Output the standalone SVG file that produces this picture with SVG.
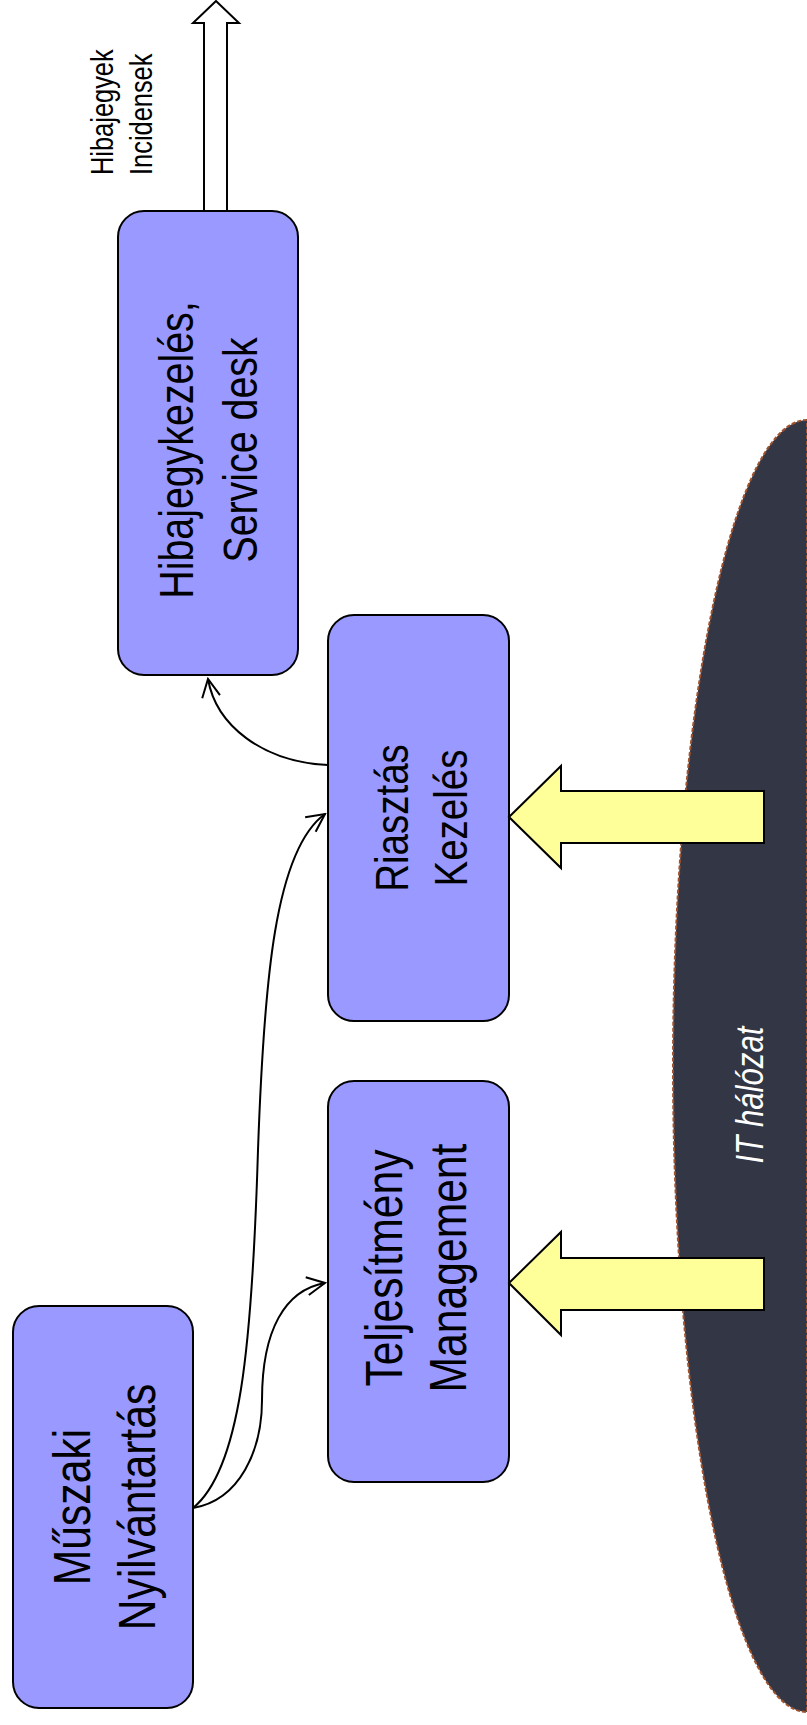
<svg xmlns="http://www.w3.org/2000/svg" width="807" height="1725" viewBox="0 0 807 1725">
<style>
.box{fill:#9999FF;stroke:#000;stroke-width:2}
.t{font-family:"Liberation Sans",Arial,sans-serif;fill:#000;text-anchor:middle}
.big{font-size:52px}
.mid{font-size:47px}
.small{font-size:31px;text-anchor:start}
.yel{fill:#FFFF99;stroke:#000;stroke-width:2;stroke-linejoin:miter}
.con{fill:none;stroke:#000;stroke-width:2}
</style>
<defs>
<marker id="open" viewBox="-22 -12 24 24" refX="0" refY="0" markerWidth="24" markerHeight="24" markerUnits="userSpaceOnUse" orient="auto">
<path d="M-18,-9 L0,0 L-18,9" fill="none" stroke="#000" stroke-width="2"/>
</marker>
</defs>
<rect width="807" height="1725" fill="#fff"/>
<g id="it-halozat">
<path d="M807,420 A134,646 0 0 0 807,1712 Z" fill="#333644" stroke="#A0522D" stroke-width="2" stroke-dasharray="4 2"/>
<text class="t" transform="translate(763,1095) rotate(-90) scale(0.82,1)" style="font-size:38px;font-style:italic;fill:#fff">IT hálózat</text>
</g>
<g id="output-arrow">
<polygon points="204,211 204,23 193,23 216,1 239,23 227,23 227,211" fill="#fff" stroke="#000" stroke-width="2"/>
<text class="t small" transform="translate(113,175) rotate(-90) scale(0.82,1)">Hibajegyek</text>
<text class="t small" transform="translate(152,175) rotate(-90) scale(0.82,1)">Incidensek</text>
</g>
<g id="hibajegykezeles">
<rect class="box" x="118" y="211" width="180" height="464" rx="26"/>
<text class="t" style="font-size:48px" transform="translate(193,450) rotate(-90) scale(0.82,1)">Hibajegykezelés,</text>
<text class="t" style="font-size:48px" transform="translate(257,450) rotate(-90) scale(0.82,1)">Service desk</text>
</g>
<g id="riasztas">
<rect class="box" x="328" y="615" width="181" height="406" rx="26"/>
<text class="t mid" transform="translate(408,818) rotate(-90) scale(0.82,1)">Riasztás</text>
<text class="t mid" transform="translate(467,818) rotate(-90) scale(0.82,1)">Kezelés</text>
</g>
<g id="teljesitmeny">
<rect class="box" x="328" y="1081" width="181" height="401" rx="26"/>
<text class="t big" transform="translate(402,1268) rotate(-90) scale(0.82,1)">Teljesítmény</text>
<text class="t big" transform="translate(466,1268) rotate(-90) scale(0.82,1)">Management</text>
</g>
<g id="muszaki">
<rect class="box" x="13" y="1306" width="180" height="402" rx="26"/>
<text class="t big" transform="translate(90,1507) rotate(-90) scale(0.82,1)">Műszaki</text>
<text class="t big" transform="translate(155,1507) rotate(-90) scale(0.82,1)">Nyilvántartás</text>
</g>
<g id="input-arrows">
<polygon class="yel" points="509,817 561,766 561,791 764,791 764,843 561,843 561,868"/>
<polygon class="yel" points="509,1283 561,1232 561,1258 764,1258 764,1310 561,1310 561,1335"/>
</g>
<g id="connectors">
<path class="con" d="M328,765 C262,762 216,725 208,679" marker-end="url(#open)"/>
<path class="con" d="M193,1508 C240,1470 252,1350 258,1150 C264,980 275,850 325,814" marker-end="url(#open)"/>
<path class="con" d="M193,1508 C240,1500 262,1450 262,1400 C262,1330 285,1290 325,1283" marker-end="url(#open)"/>
</g>
</svg>
